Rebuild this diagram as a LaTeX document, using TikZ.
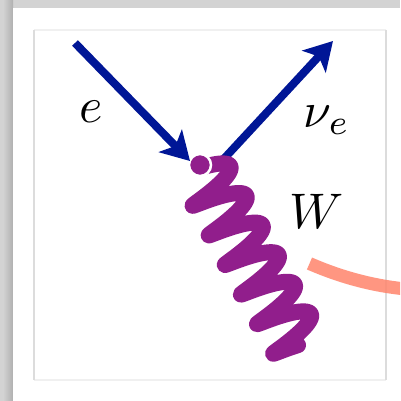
\documentclass[tikz,border=0pt]{standalone}
\usepackage{graphicx}
\usetikzlibrary{arrows.meta}
\definecolor{navy}{RGB}{0,22,150}
\definecolor{wpurple}{RGB}{145,30,140}
\definecolor{salmon}{RGB}{255,132,108}
\definecolor{bggray}{RGB}{211,211,211}
\definecolor{darkband}{RGB}{176,176,176}
\definecolor{boxline}{RGB}{220,220,220}
\definecolor{boxfaint}{RGB}{240,240,240}
\newcommand{\biglbl}[1]{\scalebox{5}{$#1$}}
\begin{document}
\begin{tikzpicture}[x=1pt,y=-1pt,
  fermion/.style={draw=navy, line width=8pt, -{Stealth[length=28pt,width=32pt,inset=7pt]}},
  boson/.style={draw=wpurple, line width=16pt, line cap=round, line join=round},
  lbl/.style={inner sep=0pt, anchor=base},
  vertexdot/.style={circle, fill=wpurple, draw=white, line width=2.5pt, minimum size=22pt, inner sep=0pt},
  salmonline/.style={draw=salmon, line width=13pt, opacity=0.85}]
\useasboundingbox (0,0) rectangle (400,401);
\clip (0,0) rectangle (400,401);
% window background
\fill[bggray] (0,0) rectangle (400,401);
\shade[left color=bggray, right color=darkband] (3,0) rectangle (13,401);
\fill[white] (13,8) rectangle (400,401);
% inner frame
\draw[boxfaint, line width=1.2pt] (34,30) -- (386,30);
\draw[boxfaint, line width=1.2pt] (34,380) -- (386,380);
\draw[boxline, line width=1.5pt] (34,30) -- (34,380);
\draw[boxline, line width=1.5pt] (386,30) -- (386,380);
% coordinates
\coordinate (vc) at (200,165);
\coordinate (wstart) at (201.4,167.6);
\coordinate (ein) at (75,43);
\coordinate (etip) at (190,161);
\coordinate (nuin) at (220,163);
\coordinate (nuout) at (333,41);
% outgoing neutrino line
\draw[fermion] (nuin) -- (nuout);
% W boson wave along the axis from the vertex
\begin{scope}[shift={(wstart)}, x={(0.478pt,-0.878pt)}, y={(0.878pt,0.478pt)}]
  \draw[boson] plot[domain=0:2160, samples=500, variable=\t]
    ({4*(1-cos(\t)) + \t*0.093611}, {26*sin(\t)});
\end{scope}
% vertex
\node[vertexdot] (v) at (vc) {};
% incoming electron line
\draw[fermion] (ein) -- (etip);
% salmon arc
\coordinate (sa) at (309.5,263.5);
\coordinate (sb) at (412,289.5);
\draw[salmonline] (sa) .. controls (343.3,278.3) and (378,287) .. (sb);
% labels
\node[lbl] (le) at (91,122) {\biglbl{e}};
\node[lbl] (lnu) at (327,127) {\biglbl{\nu_e}};
\node[lbl] (lw) at (317,228) {\biglbl{W}};
\end{tikzpicture}
\end{document}
